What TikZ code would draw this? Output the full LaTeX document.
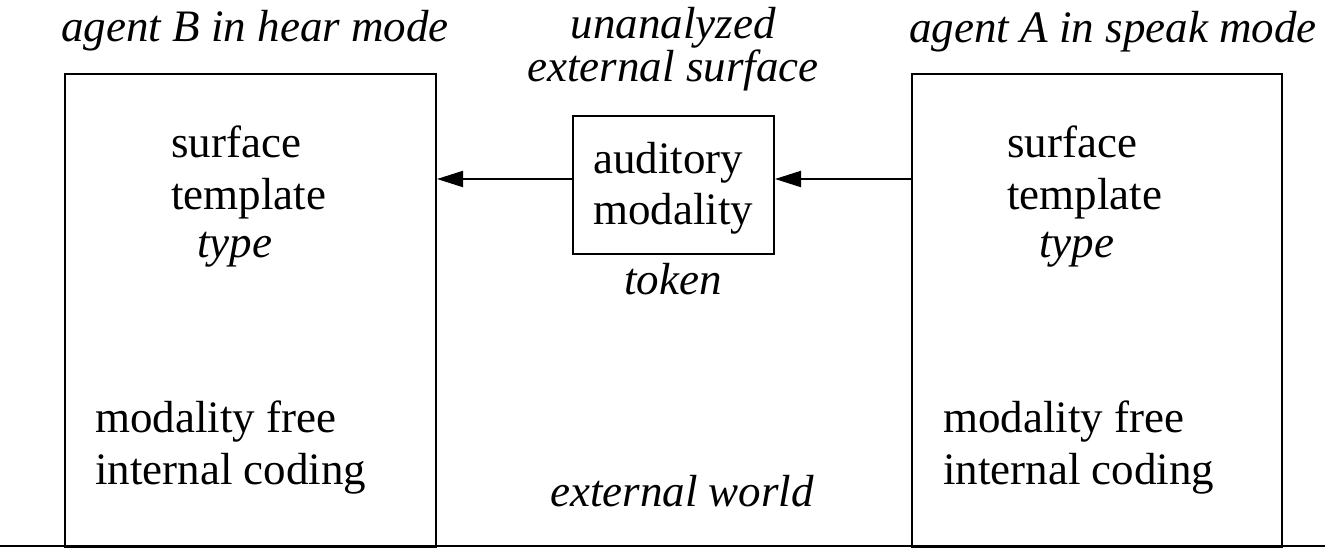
\documentclass[tikz,border=0pt]{standalone}
\usepackage{fontspec}
\setmainfont{Liberation Serif}
\usetikzlibrary{arrows.meta}
\tikzset{
  box/.style={draw, line width=2pt, inner sep=0pt, anchor=north west},
  lbl/.style={inner sep=0pt, anchor=base, font=\fontsize{45}{51}\selectfont},
  lbll/.style={lbl, anchor=base west},
  arr/.style={line width=2pt, -{Triangle[length=26pt,width=16pt]}},
}
\begin{document}
\begin{tikzpicture}[x=1pt,y=-1pt]
\useasboundingbox (0,0) rectangle (1325,547);
% boxes
\node[box, minimum width=371pt, minimum height=473pt] (leftbox) at (64,73) {};
\node[box, minimum width=370pt, minimum height=473pt] (rightbox) at (911,73) {};
\node[box, minimum width=201pt, minimum height=138pt] (midbox) at (572,115) {};
% ground line
\coordinate (gl) at (0,546);
\coordinate (gr) at (1325,546);
\draw[line width=2pt] (gl) -- (gr);
% headings
\node[lbl] (hB) at (255,41) {\itshape agent B in hear mode};
\node[lbl] (hU1) at (673,38) {\itshape unanalyzed};
\node[lbl] (hU2) at (673,81) {\itshape external surface};
\node[lbl] (hA) at (1113,42) {\itshape agent A in speak mode};
% left box text
\node[lbll] (lS1) at (171,157) {surface};
\node[lbll] (lS2) at (171,209) {template};
\node[lbll] (lS3) at (197,257) {\itshape type};
\node[lbll] (lM1) at (95,432) {modality free};
\node[lbll] (lM2) at (95,484) {internal coding};
% right box text
\node[lbll] (rS1) at (1007,157) {surface};
\node[lbll] (rS2) at (1007,209) {template};
\node[lbll] (rS3) at (1039,257) {\itshape type};
\node[lbll] (rM1) at (943,432) {modality free};
\node[lbll] (rM2) at (943,484) {internal coding};
% middle
\node[lbll] (mA1) at (593,173) {auditory};
\node[lbll] (mA2) at (593,224) {modality};
\node[lbl] (tok) at (673,294) {\itshape token};
\node[lbl] (ew) at (682,506) {\itshape external world};
% arrows
\draw[arr] (rightbox.west |- 0,179) -- (midbox.east |- 0,179);
\draw[arr] (midbox.west |- 0,179) -- (leftbox.east |- 0,179);
\end{tikzpicture}
\end{document}
